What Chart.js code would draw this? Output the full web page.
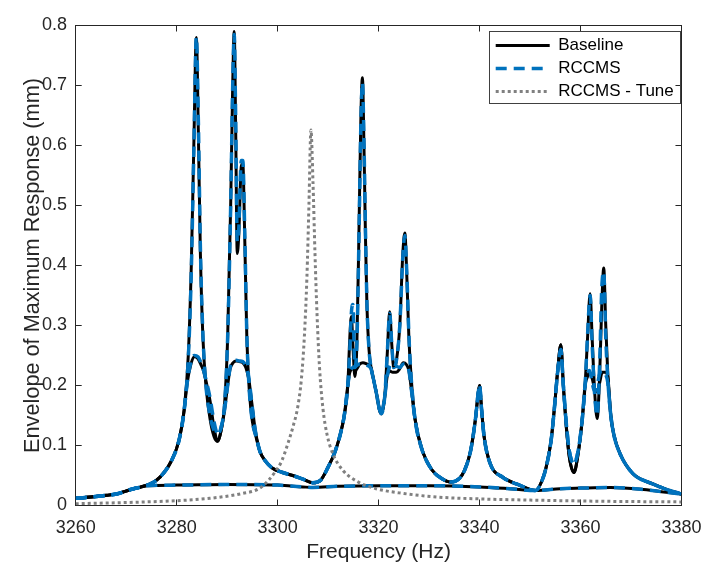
<!DOCTYPE html>
<html>
<head>
<meta charset="utf-8">
<script src="https://cdn.jsdelivr.net/npm/chart.js@4.4.0/dist/chart.umd.min.js"></script>
<style>
  html, body { margin: 0; padding: 0; background: #fff; }
</style>
</head>
<body>
<canvas id="envelopeChart" width="719" height="569"></canvas>
<script>
// axis ticks
const xTickLabels = ['3260', '3280', '3300', '3320', '3340', '3360', '3380'];
const yTickLabels = ['0', '0.1', '0.2', '0.3', '0.4', '0.5', '0.6', '0.7', '0.8'];

// trace with the tall peaks
const freqA = [
  3260, 3263, 3266, 3268.5, 3270, 3271.5, 3273, 3274.5, 3276, 3277.5,
  3279, 3280.5, 3281.5, 3282.3, 3282.9, 3283.4, 3283.9, 3284.3, 3284.7, 3285.2,
  3285.8, 3286.6, 3287.4, 3288.1, 3288.8, 3289.5, 3290.1, 3290.7, 3291.1, 3291.4,
  3291.7, 3292.0, 3292.3, 3292.8, 3293.1, 3293.5, 3293.9, 3294.4, 3295.0, 3295.7,
  3296.5, 3297.5, 3299, 3301, 3303, 3305, 3307, 3308.5, 3310, 3311.3,
  3312.3, 3313.2, 3313.9, 3314.3, 3314.6, 3314.9, 3315.3, 3315.7, 3316.1, 3316.5,
  3316.8, 3317.1, 3317.4, 3317.7, 3318.1, 3318.5, 3319.0, 3319.5, 3320.5, 3321.2,
  3321.7, 3322.2, 3322.6, 3323.0, 3323.5, 3324.2, 3324.8, 3325.2, 3325.6, 3326.0,
  3326.4, 3327.2, 3328.5, 3330.5, 3332.5, 3334.3, 3336, 3337, 3338.2, 3339.2,
  3339.7, 3340.0, 3340.4, 3340.9, 3342.1, 3344.6, 3347.9, 3351.1, 3352.3, 3353.2,
  3354.2, 3354.8, 3355.5, 3356.1, 3356.6, 3357.2, 3357.8, 3358.7, 3359.5, 3360.3,
  3360.9, 3361.4, 3361.9, 3362.3, 3362.8, 3363.3, 3363.8, 3364.2, 3364.6, 3365.0,
  3365.4, 3366.0, 3366.6, 3367.9, 3370.4, 3374.3, 3377, 3380
];
const baseA = [
  0.012, 0.014, 0.017, 0.020, 0.024, 0.028, 0.031, 0.035, 0.042, 0.055,
  0.075, 0.110, 0.160, 0.250, 0.400, 0.600, 0.780, 0.620, 0.420, 0.280,
  0.200, 0.145, 0.115, 0.107, 0.125, 0.170, 0.280, 0.500, 0.700, 0.790,
  0.620, 0.420, 0.450, 0.565, 0.570, 0.440, 0.280, 0.190, 0.140, 0.115,
  0.090, 0.075, 0.062, 0.055, 0.050, 0.044, 0.038, 0.042, 0.064, 0.088,
  0.115, 0.150, 0.200, 0.280, 0.315, 0.270, 0.215, 0.270, 0.450, 0.650,
  0.713, 0.600, 0.450, 0.330, 0.260, 0.230, 0.210, 0.190, 0.153, 0.180,
  0.250, 0.323, 0.270, 0.230, 0.240, 0.300, 0.420, 0.454, 0.380, 0.280,
  0.220, 0.145, 0.096, 0.060, 0.045, 0.039, 0.045, 0.058, 0.090, 0.145,
  0.185, 0.200, 0.160, 0.115, 0.070, 0.047, 0.034, 0.025, 0.040, 0.064,
  0.110, 0.160, 0.227, 0.268, 0.200, 0.130, 0.080, 0.055, 0.085, 0.140,
  0.200, 0.280, 0.353, 0.280, 0.190, 0.145, 0.220, 0.330, 0.396, 0.300,
  0.220, 0.150, 0.118, 0.085, 0.053, 0.036, 0.027, 0.019
];
const rccmsA = [
  0.012, 0.014, 0.017, 0.020, 0.024, 0.028, 0.031, 0.035, 0.042, 0.055,
  0.075, 0.110, 0.160, 0.245, 0.390, 0.590, 0.781, 0.640, 0.430, 0.285,
  0.200, 0.150, 0.125, 0.120, 0.130, 0.170, 0.280, 0.500, 0.700, 0.785,
  0.640, 0.440, 0.460, 0.575, 0.575, 0.450, 0.285, 0.190, 0.140, 0.115,
  0.090, 0.075, 0.062, 0.055, 0.050, 0.044, 0.038, 0.042, 0.064, 0.088,
  0.115, 0.150, 0.200, 0.260, 0.320, 0.335, 0.230, 0.270, 0.440, 0.640,
  0.705, 0.610, 0.460, 0.335, 0.260, 0.230, 0.210, 0.190, 0.153, 0.180,
  0.250, 0.320, 0.270, 0.230, 0.240, 0.300, 0.415, 0.450, 0.385, 0.285,
  0.220, 0.145, 0.096, 0.060, 0.045, 0.039, 0.045, 0.058, 0.090, 0.145,
  0.185, 0.200, 0.160, 0.115, 0.070, 0.047, 0.034, 0.025, 0.040, 0.064,
  0.110, 0.160, 0.225, 0.260, 0.200, 0.135, 0.090, 0.070, 0.090, 0.140,
  0.200, 0.285, 0.350, 0.270, 0.185, 0.150, 0.240, 0.360, 0.390, 0.280,
  0.210, 0.150, 0.118, 0.085, 0.053, 0.036, 0.027, 0.019
];

// trace with the low rounded humps
const freqB = [
  3260, 3263, 3266, 3268.5, 3270, 3271.5, 3273, 3274.5, 3276, 3277.5,
  3279, 3280.5, 3281.5, 3282.1, 3282.8, 3283.5, 3284.2, 3284.8, 3285.3, 3286.0,
  3286.6, 3287.4, 3288.1, 3288.8, 3289.5, 3290.1, 3290.6, 3291.2, 3291.8, 3292.4,
  3293.1, 3293.7, 3294.3, 3294.9, 3295.6, 3296.5, 3297.5, 3299, 3301, 3303,
  3305, 3307, 3308.5, 3310, 3311.3, 3312.3, 3313.2, 3313.9, 3314.3, 3314.9,
  3315.5, 3316.2, 3316.9, 3317.6, 3318.5, 3319.0, 3319.5, 3320.5, 3321.2, 3321.7,
  3322.2, 3322.8, 3323.5, 3324.2, 3324.9, 3325.5, 3326.0, 3326.4, 3327.2, 3328.5,
  3330.5, 3332.5, 3334.3, 3336, 3337, 3338.2, 3339.2, 3339.7, 3340.0, 3340.4,
  3340.9, 3342.1, 3344.6, 3347.9, 3351.1, 3352.3, 3353.2, 3354.2, 3354.8, 3355.5,
  3356.1, 3356.6, 3357.2, 3357.8, 3358.7, 3359.5, 3360.3, 3360.9, 3361.4, 3361.8,
  3362.3, 3362.8, 3363.3, 3363.8, 3364.3, 3364.9, 3365.4, 3366.0, 3366.6, 3367.9,
  3370.4, 3374.3, 3377, 3380
];
const baseB = [
  0.012, 0.014, 0.017, 0.020, 0.024, 0.028, 0.031, 0.035, 0.042, 0.055,
  0.075, 0.110, 0.160, 0.205, 0.235, 0.248, 0.245, 0.235, 0.225, 0.200,
  0.175, 0.130, 0.107, 0.125, 0.160, 0.200, 0.228, 0.238, 0.241, 0.240,
  0.238, 0.230, 0.210, 0.170, 0.124, 0.090, 0.075, 0.062, 0.055, 0.050,
  0.044, 0.038, 0.042, 0.064, 0.088, 0.115, 0.150, 0.200, 0.222, 0.228,
  0.226, 0.235, 0.238, 0.236, 0.230, 0.210, 0.190, 0.153, 0.180, 0.215,
  0.224, 0.222, 0.222, 0.228, 0.238, 0.235, 0.225, 0.200, 0.145, 0.096,
  0.060, 0.045, 0.039, 0.045, 0.058, 0.090, 0.145, 0.185, 0.200, 0.160,
  0.115, 0.070, 0.047, 0.034, 0.025, 0.040, 0.064, 0.110, 0.160, 0.227,
  0.268, 0.200, 0.130, 0.080, 0.055, 0.085, 0.140, 0.200, 0.215, 0.222,
  0.212, 0.195, 0.190, 0.205, 0.222, 0.222, 0.215, 0.150, 0.118, 0.085,
  0.053, 0.036, 0.027, 0.019
];
const rccmsB = [
  0.012, 0.014, 0.017, 0.020, 0.024, 0.028, 0.031, 0.035, 0.042, 0.055,
  0.075, 0.110, 0.160, 0.205, 0.238, 0.250, 0.248, 0.238, 0.226, 0.203,
  0.180, 0.140, 0.120, 0.130, 0.160, 0.200, 0.230, 0.240, 0.242, 0.241,
  0.240, 0.232, 0.212, 0.170, 0.124, 0.090, 0.075, 0.062, 0.055, 0.050,
  0.044, 0.038, 0.042, 0.064, 0.088, 0.115, 0.150, 0.200, 0.222, 0.230,
  0.232, 0.236, 0.236, 0.234, 0.228, 0.210, 0.190, 0.153, 0.180, 0.215,
  0.232, 0.236, 0.232, 0.230, 0.236, 0.235, 0.225, 0.200, 0.145, 0.096,
  0.060, 0.045, 0.039, 0.045, 0.058, 0.090, 0.145, 0.185, 0.200, 0.160,
  0.115, 0.070, 0.047, 0.034, 0.025, 0.040, 0.064, 0.110, 0.160, 0.225,
  0.260, 0.200, 0.135, 0.090, 0.070, 0.090, 0.140, 0.200, 0.220, 0.225,
  0.205, 0.190, 0.200, 0.220, 0.225, 0.220, 0.205, 0.150, 0.118, 0.085,
  0.053, 0.036, 0.027, 0.019
];

// flat trace near the floor
const freqC = [3260, 3264, 3268, 3269.5, 3271, 3272.5, 3274, 3280, 3290, 3300, 3305, 3307,
  3312, 3320, 3330, 3340, 3346, 3351.1, 3356, 3360, 3366, 3372, 3376, 3380];
const baseC = [0.012, 0.015, 0.019, 0.023, 0.027, 0.030, 0.033, 0.034, 0.035, 0.034, 0.031, 0.030,
  0.032, 0.033, 0.033, 0.031, 0.028, 0.025, 0.028, 0.029, 0.030, 0.027, 0.023, 0.019];
const rccmsC = [0.012, 0.015, 0.019, 0.023, 0.027, 0.030, 0.033, 0.034, 0.035, 0.034, 0.031, 0.030,
  0.032, 0.033, 0.033, 0.031, 0.028, 0.025, 0.028, 0.029, 0.030, 0.027, 0.023, 0.019];

// tuned design, single peak
const freqTune = [3260, 3270, 3280, 3286.6, 3293, 3296.3, 3298.2, 3299.5, 3300.8, 3302.1,
  3303, 3304, 3304.7, 3305.3, 3305.8, 3306.2, 3306.6, 3307.0, 3307.4, 3307.8,
  3308.3, 3309, 3309.8, 3311, 3313, 3316, 3319.5, 3325, 3331.8, 3340,
  3350, 3365, 3380];
const tuneVals = [0.003, 0.005, 0.008, 0.012, 0.020, 0.028, 0.042, 0.056, 0.074, 0.105,
  0.130, 0.165, 0.210, 0.282, 0.380, 0.500, 0.626, 0.540, 0.420, 0.320,
  0.230, 0.160, 0.118, 0.085, 0.058, 0.039, 0.028, 0.020, 0.014, 0.011,
  0.009, 0.007, 0.006];

const pts = (xs, ys) => xs.map((x, i) => ({ x: x, y: ys[i] }));

const FONT = "'Liberation Sans', Arial, Helvetica, sans-serif";
const AXIS = '#262626';
const BLUE = '#0072BD';

Chart.defaults.font.family = FONT;
Chart.defaults.color = AXIS;

const line = (label, data, color, width, dash, order, hide) => ({
  label: label,
  data: data,
  borderColor: color,
  backgroundColor: color,
  borderWidth: width,
  borderDash: dash,
  borderCapStyle: 'butt',
  pointRadius: 0,
  fill: false,
  cubicInterpolationMode: 'monotone',
  order: order,
  hideInLegend: hide
});

// legend sits inside the plot, top right, with a frame like matlab
const legendBox = {
  id: 'legendBox',
  afterLayout(chart) {
    const lg = chart.legend;
    const w = lg.width, h = lg.height;
    lg.left = 489.7;
    lg.top = 31;
    lg.right = lg.left + w;
    lg.bottom = lg.top + h;
  },
  afterDraw(chart) {
    const ctx = chart.ctx;
    ctx.save();
    ctx.strokeStyle = '#404040';
    ctx.lineWidth = 1;
    ctx.strokeRect(489.5, 31.5, 191, 72);
    ctx.restore();
  }
};

const tickGrid = { drawOnChartArea: false, drawTicks: true, tickLength: -6, color: AXIS };
const border = { display: true, color: AXIS, width: 1 };

new Chart(document.getElementById('envelopeChart'), {
  type: 'line',
  data: {
    datasets: [
      line('Baseline', pts(freqA, baseA), '#000000', 3, [], 3, false),
      line('Baseline', pts(freqB, baseB), '#000000', 3, [], 3, true),
      line('Baseline', pts(freqC, baseC), '#000000', 3, [], 3, true),
      line('RCCMS', pts(freqA, rccmsA), BLUE, 3.5, [11, 7], 2, false),
      line('RCCMS', pts(freqB, rccmsB), BLUE, 3.5, [11, 7], 2, true),
      line('RCCMS', pts(freqC, rccmsC), BLUE, 3.5, [11, 7], 2, true),
      line('RCCMS - Tune', pts(freqTune, tuneVals), '#808080', 3, [3, 3], 1, false)
    ]
  },
  options: {
    responsive: false,
    animation: false,
    devicePixelRatio: 1,
    layout: { padding: { left: 0, top: 16, right: 23, bottom: 0 } },
    plugins: {
      tooltip: { enabled: false },
      legend: {
        position: 'chartArea',
        align: 'start',
        labels: {
          usePointStyle: true,
          pointStyle: 'line',
          pointStyleWidth: 54,
          boxHeight: 17,
          padding: 6,
          color: '#000000',
          font: { size: 17, family: FONT },
          filter: (item, data) => !data.datasets[item.datasetIndex].hideInLegend,
          sort: (a, b) => a.datasetIndex - b.datasetIndex,
          // point styles carry no dash, so take it from the dataset
          generateLabels: (chart) => Chart.defaults.plugins.legend.labels.generateLabels(chart).map((item) => {
            const ds = chart.data.datasets[item.datasetIndex];
            item.lineDash = ds.borderDash;
            item.lineWidth = ds.borderWidth;
            item.strokeStyle = ds.borderColor;
            return item;
          })
        }
      }
    },
    scales: {
      x: {
        type: 'linear',
        position: 'bottom',
        min: 3260,
        max: 3380,
        afterFit: (s) => { s.height = 63.5; },
        ticks: {
          stepSize: 20,
          padding: 17.5,
          font: { size: 18 },
          color: AXIS,
          maxRotation: 0,
          callback: (v, i) => xTickLabels[i]
        },
        grid: tickGrid,
        border: border,
        title: {
          display: true,
          text: 'Frequency (Hz)',
          color: AXIS,
          font: { size: 21 },
          padding: { top: 0, bottom: 4 }
        }
      },
      y: {
        type: 'linear',
        position: 'left',
        min: 0,
        max: 0.8,
        afterFit: (s) => { s.width = 75.7; },
        ticks: {
          stepSize: 0.1,
          padding: 14.7,
          font: { size: 18 },
          color: AXIS,
          callback: (v, i) => yTickLabels[i]
        },
        grid: tickGrid,
        border: border,
        title: {
          display: true,
          text: 'Envelope of Maximum Response (mm)',
          color: AXIS,
          font: { size: 21.7 },
          padding: { top: 20, bottom: 0 }
        }
      },
      xTop: {
        type: 'linear',
        axis: 'x',
        position: 'top',
        min: 3260,
        max: 3380,
        afterFit: (s) => { s.height = 0; },
        ticks: { stepSize: 20, display: false },
        grid: tickGrid,
        border: border
      },
      yRight: {
        type: 'linear',
        axis: 'y',
        position: 'right',
        min: 0,
        max: 0.8,
        afterFit: (s) => { s.width = 0; },
        ticks: { stepSize: 0.1, display: false },
        grid: tickGrid,
        border: border
      }
    }
  },
  plugins: [legendBox]
});
</script>
</body>
</html>
